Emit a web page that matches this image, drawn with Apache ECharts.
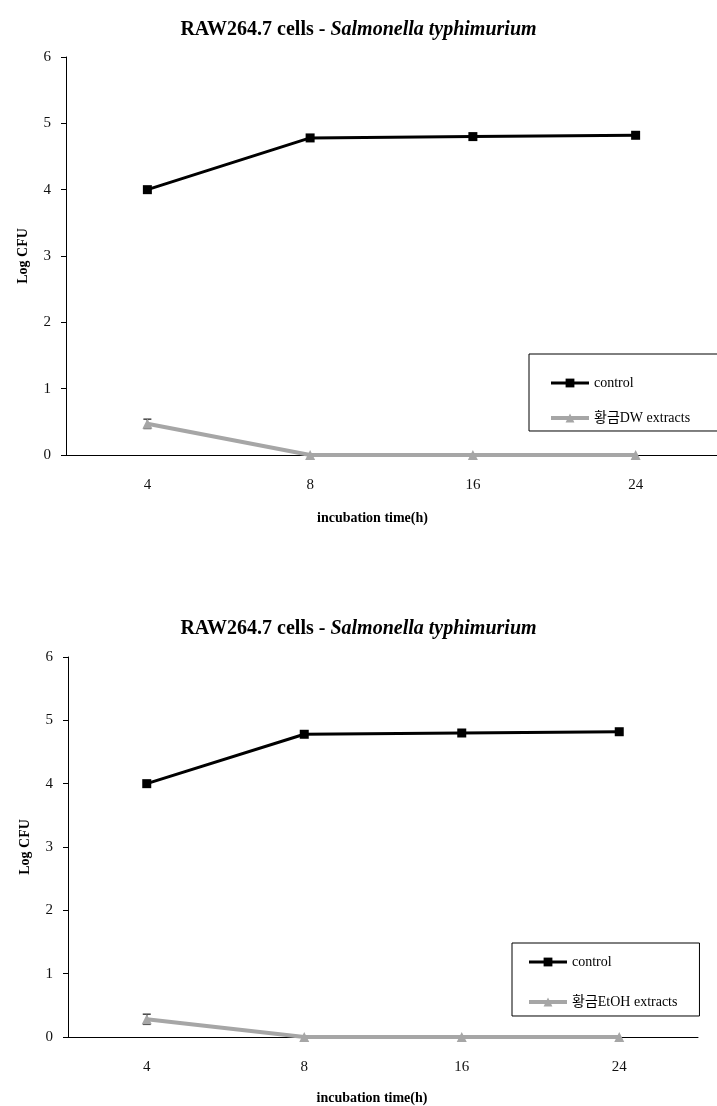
<!DOCTYPE html>
<html>
<head>
<meta charset="utf-8">
<script src="https://cdn.jsdelivr.net/npm/echarts@6/dist/echarts.min.js"></script>
<style>
  html, body { margin: 0; padding: 0; background: #fff; }
  #chart { width: 717px; height: 1106px; }
</style>
</head>
<body>
<div id="chart"></div>
<script>
// Incubation times (h)
const times = ['4', '8', '16', '24'];
const yTicks = [0, 1, 2, 3, 4, 5, 6];

// Panel 1: water extract
const control1 = [4.0, 4.78, 4.80, 4.82];
const dw = [0.47, 0, 0, 0];
const dwErr = [0.07, 0, 0, 0];

// Panel 2: ethanol extract
const control2 = [4.0, 4.78, 4.80, 4.82];
const etoh = [0.28, 0, 0, 0];
const etohErr = [0.08, 0, 0, 0];

const names = {
  control: 'control',
  dw: '황금DW extracts',
  etoh: '황금EtOH extracts'
};

const SERIF = '"Liberation Serif", "Times New Roman", "Noto Sans CJK KR", serif';
const GRAY = '#a6a6a6';

const chart = echarts.init(document.getElementById('chart'));

function errorBars(values, errs, axisIdx) {
  return {
    type: 'custom',
    xAxisIndex: axisIdx,
    yAxisIndex: axisIdx,
    z: 1,
    silent: true,
    data: values.map((v, i) => [i, v, errs[i]]),
    renderItem: function (params, api) {
      const e = api.value(2);
      if (!e) return null;
      const i = api.value(0), v = api.value(1);
      const top = api.coord([i, v + e]);
      const bot = api.coord([i, v - e]);
      const w = 4;
      const style = { stroke: '#444', lineWidth: 1.5 };
      return {
        type: 'group',
        children: [
          { type: 'line', shape: { x1: top[0], y1: top[1], x2: bot[0], y2: bot[1] }, style },
          { type: 'line', shape: { x1: top[0] - w, y1: top[1], x2: top[0] + w, y2: top[1] }, style },
          { type: 'line', shape: { x1: bot[0] - w, y1: bot[1], x2: bot[0] + w, y2: bot[1] }, style }
        ]
      };
    }
  };
}

function xAxis(gridIndex, namePadRight, nameGap) {
  return {
    type: 'category',
    gridIndex,
    data: times,
    boundaryGap: true,
    axisLine: { lineStyle: { color: '#000', width: 1 } },
    axisTick: { inside: true, alignWithLabel: true, length: 4, lineStyle: { color: '#000' } },
    axisLabel: { margin: 23, fontFamily: SERIF, fontSize: 15, color: '#111' },
    name: 'incubation time(h)',
    nameLocation: 'middle',
    nameGap,
    nameTextStyle: { fontFamily: SERIF, fontSize: 14, fontWeight: 'bold', color: '#000', padding: [0, namePadRight, 0, 0] }
  };
}

function yAxis(gridIndex) {
  return {
    type: 'value',
    gridIndex,
    min: yTicks[0],
    max: yTicks[yTicks.length - 1],
    interval: 1,
    splitLine: { show: false },
    axisLine: { show: true, lineStyle: { color: '#000', width: 1 } },
    axisTick: { show: true, length: 5, lineStyle: { color: '#000' } },
    axisLabel: { margin: 15, fontFamily: SERIF, fontSize: 15, color: '#111' },
    name: 'Log CFU',
    nameLocation: 'middle',
    nameRotate: 90,
    nameGap: 36,
    nameTextStyle: { fontFamily: SERIF, fontSize: 14, fontWeight: 'bold', color: '#000' }
  };
}

function lineSeries(name, values, axisIdx, isControl) {
  return {
    type: 'line',
    name,
    xAxisIndex: axisIdx,
    yAxisIndex: axisIdx,
    data: values,
    z: isControl ? 4 : 3,
    symbol: isControl ? 'rect' : 'triangle',
    symbolSize: isControl ? 9 : 10,
    showSymbol: true,
    color: isControl ? '#000' : GRAY,
    itemStyle: { color: isControl ? '#000' : GRAY },
    lineStyle: { color: isControl ? '#000' : GRAY, width: isControl ? 3 : 4 }
  };
}

function titleRich(top) {
  return {
    left: 'center',
    top,
    text: '{b|RAW264.7 cells - }{i|Salmonella typhimurium}',
    textStyle: {
      rich: {
        b: { fontFamily: SERIF, fontSize: 20, fontWeight: 'bold', color: '#000' },
        i: { fontFamily: SERIF, fontSize: 20, fontWeight: 'bold', fontStyle: 'italic', color: '#000' }
      }
    }
  };
}

const legendBase = {
  orient: 'vertical',
  borderColor: '#000',
  borderWidth: 1,
  itemWidth: 38,
  itemHeight: 11,
  lineStyle: { width: 'inherit' },
  textStyle: { fontFamily: SERIF, fontSize: 14, color: '#000' }
};

chart.setOption({
  animation: false,
  backgroundColor: '#fff',
  title: [titleRich(15), titleRich(614)],
  grid: [
    { left: 66, top: 57, width: 656, height: 398 },
    { left: 68, top: 657, width: 630, height: 381 }
  ],
  xAxis: [xAxis(0, 38, 56), xAxis(1, 22, 54)],
  yAxis: [yAxis(0), yAxis(1)],
  legend: [
    Object.assign({}, legendBase, {
      data: [names.control, names.dw],
      left: 529, top: 354,
      padding: [22, 40, 6, 20],
      itemGap: 21
    }),
    Object.assign({}, legendBase, {
      data: [names.control, names.etoh],
      left: 512, top: 943,
      padding: [12, 22, 7, 15],
      itemGap: 26
    })
  ],
  series: [
    errorBars(dw, dwErr, 0),
    lineSeries(names.control, control1, 0, true),
    lineSeries(names.dw, dw, 0, false),
    errorBars(etoh, etohErr, 1),
    lineSeries(names.control, control2, 1, true),
    lineSeries(names.etoh, etoh, 1, false)
  ]
});
</script>
</body>
</html>
